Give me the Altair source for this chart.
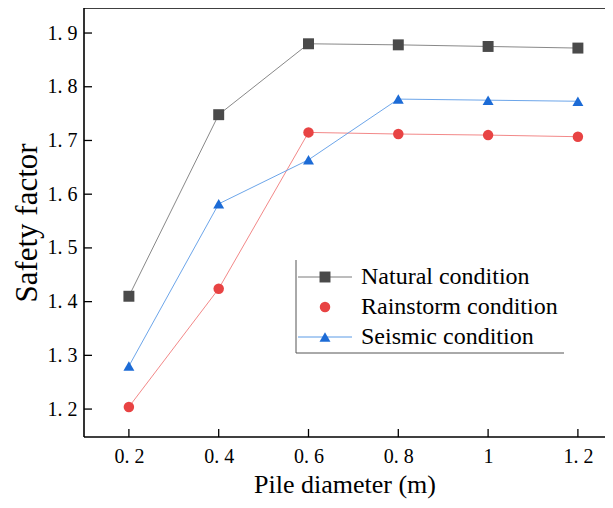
import altair as alt
import pandas as pd

# ---- data ----
diameters = [0.2, 0.4, 0.6, 0.8, 1.0, 1.2]
natural = [1.410, 1.748, 1.880, 1.878, 1.875, 1.872]
rainstorm = [1.204, 1.424, 1.715, 1.712, 1.710, 1.707]
seismic = [1.280, 1.582, 1.664, 1.777, 1.775, 1.773]
series_names = ["Natural condition", "Rainstorm condition", "Seismic condition"]
x_ticks = [0.2, 0.4, 0.6, 0.8, 1.0, 1.2]
y_ticks = [1.2, 1.3, 1.4, 1.5, 1.6, 1.7, 1.8, 1.9]

W, H = 521, 429
FONT = "Liberation Serif"

xscale = alt.Scale(domain=[0.1, 0.1 + 521 / 449], nice=False, zero=False)
yscale = alt.Scale(domain=[1.148, 1.9466], nice=False, zero=False)

label_expr = "datum.value == 1 ? '1' : replace(format(datum.value, '.1f'), '.', '. ')"

xaxis = alt.Axis(values=x_ticks, labelExpr=label_expr, title="Pile diameter (m)",
                 tickSize=0, domain=False, grid=False, labelPadding=9,
                 labelFontSize=20, labelFont=FONT, labelColor="black",
                 titleFont=FONT, titleFontSize=26, titleFontWeight="normal",
                 titleColor="black", titlePadding=5)
yaxis = alt.Axis(values=y_ticks, labelExpr=label_expr, title="Safety factor",
                 tickSize=0, domain=False, grid=False, labelPadding=7,
                 labelFontSize=20, labelFont=FONT, labelColor="black",
                 titleFont=FONT, titleFontSize=31, titleFontWeight="normal",
                 titleColor="black", titlePadding=4)

styles = [
    ("square", "#4a4a4a", "#7a7a7a", 120),
    ("circle", "#e84343", "#f07a7a", 110),
    ("triangle-up", "#1c6bd6", "#5b9be6", 120),
]
values = [natural, rainstorm, seismic]

layers = []
# axes carrier (invisible)
base_df = pd.DataFrame({"x": diameters, "y": natural})
layers.append(
    alt.Chart(base_df).mark_point(opacity=0).encode(
        x=alt.X("x:Q", scale=xscale, axis=xaxis),
        y=alt.Y("y:Q", scale=yscale, axis=yaxis),
    )
)

one = pd.DataFrame({"a": [0]})
# frame: left, top, bottom
layers.append(alt.Chart(one).mark_rule(color="black", strokeWidth=1.6).encode(
    x=alt.value(0), y=alt.value(0), y2=alt.value(H)))
layers.append(alt.Chart(one).mark_rule(color="black", strokeWidth=1.6).encode(
    x=alt.value(0), x2=alt.value(W), y=alt.value(0)))
layers.append(alt.Chart(one).mark_rule(color="black", strokeWidth=1.6).encode(
    x=alt.value(0), x2=alt.value(W), y=alt.value(H)))

# inward ticks
ytick_df = pd.DataFrame({"v": y_ticks})
layers.append(
    alt.Chart(ytick_df).mark_rule(color="black", strokeWidth=1.3).encode(
        x=alt.value(0), x2=alt.value(8), y=alt.Y("v:Q", scale=yscale)
    )
)
xtick_df = pd.DataFrame({"v": x_ticks})
layers.append(
    alt.Chart(xtick_df).mark_rule(color="black", strokeWidth=1.3).encode(
        x=alt.X("v:Q", scale=xscale), y=alt.value(H), y2=alt.value(H - 8)
    )
)

for name, vals, (shape, mcol, lcol, size) in zip(series_names, values, styles):
    df = pd.DataFrame({"x": diameters, "y": vals, "series": name})
    layers.append(
        alt.Chart(df).mark_line(color=lcol, strokeWidth=0.9).encode(
            x=alt.X("x:Q", scale=xscale), y=alt.Y("y:Q", scale=yscale)
        )
    )
    layers.append(
        alt.Chart(df).mark_point(shape=shape, filled=True, color=mcol, size=size, opacity=1).encode(
            x=alt.X("x:Q", scale=xscale), y=alt.Y("y:Q", scale=yscale)
        )
    )

# ---- manual legend ----
leg_x0, leg_rows = 212, [269, 299, 329]
layers.append(
    alt.Chart(one).mark_rule(color="#555555", strokeWidth=1).encode(
        x=alt.value(leg_x0), y=alt.value(252), y2=alt.value(345)
    )
)
layers.append(
    alt.Chart(one).mark_rule(color="#555555", strokeWidth=1).encode(
        x=alt.value(leg_x0), x2=alt.value(480), y=alt.value(345)
    )
)
for i, (name, (shape, mcol, lcol, size)) in enumerate(zip(series_names, styles)):
    ldf = pd.DataFrame({"name": [name]})
    ry = leg_rows[i]
    if i != 1:
        layers.append(
            alt.Chart(ldf).mark_rule(color=lcol, strokeWidth=1).encode(
                x=alt.value(214), x2=alt.value(268), y=alt.value(ry)
            )
        )
    layers.append(
        alt.Chart(ldf).mark_point(shape=shape, filled=True, color=mcol, size=size, opacity=1).encode(
            x=alt.value(241), y=alt.value(ry)
        )
    )
    layers.append(
        alt.Chart(ldf).mark_text(align="left", baseline="middle", font=FONT,
                                 fontSize=24, color="black").encode(
            x=alt.value(277), y=alt.value(ry), text="name:N"
        )
    )

chart = alt.layer(*layers).properties(
    width=W, height=H,
    padding={"left": 76, "top": 0, "right": 0, "bottom": 63},
    autosize=alt.AutoSizeParams(type="none"),
).configure_view(
    stroke=None
).configure_text(font=FONT)

chart.save("out.html", embed_options={"renderer": "svg", "actions": False})
